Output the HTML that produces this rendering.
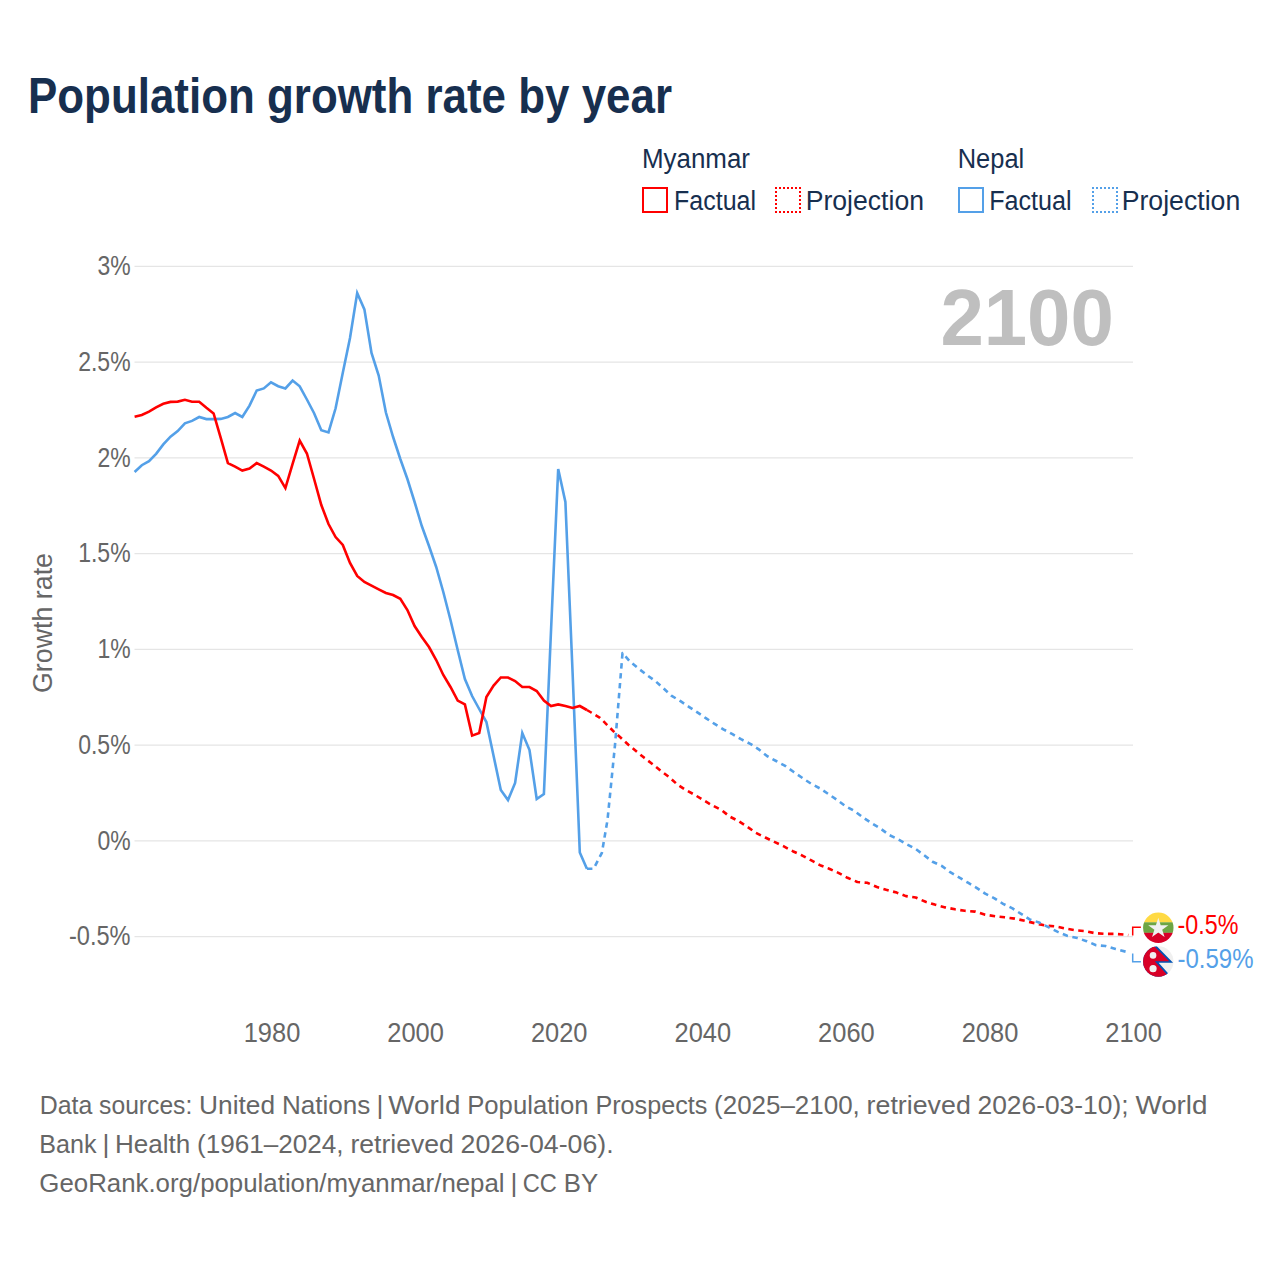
<!DOCTYPE html>
<html><head><meta charset="utf-8"><style>
html,body{margin:0;padding:0;background:#fff;}
svg{display:block;}
text{font-family:"Liberation Sans",sans-serif;}
.ti{font-size:50px;font-weight:bold;fill:#172f4f;}
.lg{font-size:27px;fill:#172f4f;}
.tk{font-size:27px;fill:#666666;}
.an{font-size:27px;}
.ft{font-size:26.6px;fill:#666666;}
.yr{font-size:80px;font-weight:bold;fill:#bfbfbf;}
</style></head><body>
<svg width="1280" height="1280" viewBox="0 0 1280 1280">
<rect width="1280" height="1280" fill="#fff"/>

<text x="28" y="112.75" class="ti" textLength="644" lengthAdjust="spacingAndGlyphs">Population growth rate by year</text>
<text x="1113.8" y="344.8" text-anchor="end" class="yr" textLength="173.4" lengthAdjust="spacingAndGlyphs">2100</text>
<text transform="translate(51.7,623) rotate(-90)" text-anchor="middle" class="tk" textLength="140" lengthAdjust="spacingAndGlyphs">Growth rate</text>
<text x="1177.5" y="933.9" class="an" fill="#ff0000" textLength="61" lengthAdjust="spacingAndGlyphs">-0.5%</text>
<text x="1177.5" y="967.8" class="an" fill="#54a0e8" textLength="76" lengthAdjust="spacingAndGlyphs">-0.59%</text>
<text x="39.7" y="1113.6" class="ft" textLength="52.6" lengthAdjust="spacingAndGlyphs">Data</text>
<text x="99.1" y="1113.6" class="ft" textLength="93.2" lengthAdjust="spacingAndGlyphs">sources:</text>
<text x="199.1" y="1113.6" class="ft" textLength="76.0" lengthAdjust="spacingAndGlyphs">United</text>
<text x="281.9" y="1113.6" class="ft" textLength="88.5" lengthAdjust="spacingAndGlyphs">Nations</text>
<text x="376.4" y="1113.6" class="ft">|</text>
<text x="388.2" y="1113.6" class="ft" textLength="72.2" lengthAdjust="spacingAndGlyphs">World</text>
<text x="467.2" y="1113.6" class="ft" textLength="121.4" lengthAdjust="spacingAndGlyphs">Population</text>
<text x="595.4" y="1113.6" class="ft" textLength="111.9" lengthAdjust="spacingAndGlyphs">Prospects</text>
<text x="714.1" y="1113.6" class="ft" textLength="145.7" lengthAdjust="spacingAndGlyphs">(2025–2100,</text>
<text x="866.6" y="1113.6" class="ft" textLength="104.2" lengthAdjust="spacingAndGlyphs">retrieved</text>
<text x="977.5" y="1113.6" class="ft" textLength="151.0" lengthAdjust="spacingAndGlyphs">2026-03-10);</text>
<text x="1135.4" y="1113.6" class="ft" textLength="72.1" lengthAdjust="spacingAndGlyphs">World</text>
<text x="39.3" y="1152.7" class="ft" textLength="57.2" lengthAdjust="spacingAndGlyphs">Bank</text>
<text x="102.5" y="1152.7" class="ft">|</text>
<text x="115.0" y="1152.7" class="ft" textLength="75.3" lengthAdjust="spacingAndGlyphs">Health</text>
<text x="197.1" y="1152.7" class="ft" textLength="146.5" lengthAdjust="spacingAndGlyphs">(1961–2024,</text>
<text x="350.4" y="1152.7" class="ft" textLength="103.4" lengthAdjust="spacingAndGlyphs">retrieved</text>
<text x="460.6" y="1152.7" class="ft" textLength="153.0" lengthAdjust="spacingAndGlyphs">2026-04-06).</text>
<text x="39.3" y="1191.7" class="ft" textLength="465.3" lengthAdjust="spacingAndGlyphs">GeoRank.org/population/myanmar/nepal</text>
<text x="510.6" y="1191.7" class="ft">|</text>
<text x="522.7" y="1191.7" class="ft" textLength="34.2" lengthAdjust="spacingAndGlyphs">CC</text>
<text x="563.7" y="1191.7" class="ft" textLength="34.4" lengthAdjust="spacingAndGlyphs">BY</text>


<text x="642" y="167.6" class="lg" textLength="108" lengthAdjust="spacingAndGlyphs">Myanmar</text>
<rect x="643" y="188" width="24" height="24" fill="none" stroke="#ff0000" stroke-width="2"/>
<text x="674" y="209.9" class="lg" textLength="82" lengthAdjust="spacingAndGlyphs">Factual</text>
<rect x="775" y="187" width="2" height="2" fill="#ff0000"/><rect x="775" y="191" width="2" height="2" fill="#ff0000"/><rect x="775" y="195" width="2" height="2" fill="#ff0000"/><rect x="775" y="199" width="2" height="2" fill="#ff0000"/><rect x="775" y="203" width="2" height="2" fill="#ff0000"/><rect x="775" y="207" width="2" height="2" fill="#ff0000"/><rect x="775" y="211" width="2" height="2" fill="#ff0000"/><rect x="779" y="187" width="2" height="2" fill="#ff0000"/><rect x="779" y="211" width="2" height="2" fill="#ff0000"/><rect x="783" y="187" width="2" height="2" fill="#ff0000"/><rect x="783" y="211" width="2" height="2" fill="#ff0000"/><rect x="787" y="187" width="2" height="2" fill="#ff0000"/><rect x="787" y="211" width="2" height="2" fill="#ff0000"/><rect x="791" y="187" width="2" height="2" fill="#ff0000"/><rect x="791" y="211" width="2" height="2" fill="#ff0000"/><rect x="795" y="187" width="2" height="2" fill="#ff0000"/><rect x="795" y="211" width="2" height="2" fill="#ff0000"/><rect x="799" y="187" width="2" height="2" fill="#ff0000"/><rect x="799" y="191" width="2" height="2" fill="#ff0000"/><rect x="799" y="195" width="2" height="2" fill="#ff0000"/><rect x="799" y="199" width="2" height="2" fill="#ff0000"/><rect x="799" y="203" width="2" height="2" fill="#ff0000"/><rect x="799" y="207" width="2" height="2" fill="#ff0000"/><rect x="799" y="211" width="2" height="2" fill="#ff0000"/>
<text x="805.7" y="209.9" class="lg" textLength="118.3" lengthAdjust="spacingAndGlyphs">Projection</text>
<text x="957.7" y="167.6" class="lg" textLength="66.5" lengthAdjust="spacingAndGlyphs">Nepal</text>
<rect x="959" y="188" width="24" height="24" fill="none" stroke="#54a0e8" stroke-width="2"/>
<text x="989.2" y="209.9" class="lg" textLength="82.5" lengthAdjust="spacingAndGlyphs">Factual</text>
<rect x="1092" y="187" width="2" height="2" fill="#54a0e8"/><rect x="1092" y="191" width="2" height="2" fill="#54a0e8"/><rect x="1092" y="195" width="2" height="2" fill="#54a0e8"/><rect x="1092" y="199" width="2" height="2" fill="#54a0e8"/><rect x="1092" y="203" width="2" height="2" fill="#54a0e8"/><rect x="1092" y="207" width="2" height="2" fill="#54a0e8"/><rect x="1092" y="211" width="2" height="2" fill="#54a0e8"/><rect x="1096" y="187" width="2" height="2" fill="#54a0e8"/><rect x="1096" y="211" width="2" height="2" fill="#54a0e8"/><rect x="1100" y="187" width="2" height="2" fill="#54a0e8"/><rect x="1100" y="211" width="2" height="2" fill="#54a0e8"/><rect x="1104" y="187" width="2" height="2" fill="#54a0e8"/><rect x="1104" y="211" width="2" height="2" fill="#54a0e8"/><rect x="1108" y="187" width="2" height="2" fill="#54a0e8"/><rect x="1108" y="211" width="2" height="2" fill="#54a0e8"/><rect x="1112" y="187" width="2" height="2" fill="#54a0e8"/><rect x="1112" y="211" width="2" height="2" fill="#54a0e8"/><rect x="1116" y="187" width="2" height="2" fill="#54a0e8"/><rect x="1116" y="191" width="2" height="2" fill="#54a0e8"/><rect x="1116" y="195" width="2" height="2" fill="#54a0e8"/><rect x="1116" y="199" width="2" height="2" fill="#54a0e8"/><rect x="1116" y="203" width="2" height="2" fill="#54a0e8"/><rect x="1116" y="207" width="2" height="2" fill="#54a0e8"/><rect x="1116" y="211" width="2" height="2" fill="#54a0e8"/>
<text x="1121.7" y="209.9" class="lg" textLength="118.6" lengthAdjust="spacingAndGlyphs">Projection</text>

<line x1="134.5" y1="266.4" x2="1133" y2="266.4" stroke="#e5e5e5" stroke-width="1.3"/><line x1="134.5" y1="362.1" x2="1133" y2="362.1" stroke="#e5e5e5" stroke-width="1.3"/><line x1="134.5" y1="457.9" x2="1133" y2="457.9" stroke="#e5e5e5" stroke-width="1.3"/><line x1="134.5" y1="553.6" x2="1133" y2="553.6" stroke="#e5e5e5" stroke-width="1.3"/><line x1="134.5" y1="649.4" x2="1133" y2="649.4" stroke="#e5e5e5" stroke-width="1.3"/><line x1="134.5" y1="745.1" x2="1133" y2="745.1" stroke="#e5e5e5" stroke-width="1.3"/><line x1="134.5" y1="840.9" x2="1133" y2="840.9" stroke="#e5e5e5" stroke-width="1.3"/><line x1="134.5" y1="936.6" x2="1133" y2="936.6" stroke="#e5e5e5" stroke-width="1.3"/><text x="130.6" y="275.0" text-anchor="end" class="tk" textLength="33.2" lengthAdjust="spacingAndGlyphs">3%</text><text x="130.6" y="370.8" text-anchor="end" class="tk" textLength="52.4" lengthAdjust="spacingAndGlyphs">2.5%</text><text x="130.6" y="466.5" text-anchor="end" class="tk" textLength="33.2" lengthAdjust="spacingAndGlyphs">2%</text><text x="130.6" y="562.2" text-anchor="end" class="tk" textLength="52.4" lengthAdjust="spacingAndGlyphs">1.5%</text><text x="130.6" y="658.0" text-anchor="end" class="tk" textLength="33.2" lengthAdjust="spacingAndGlyphs">1%</text><text x="130.6" y="753.8" text-anchor="end" class="tk" textLength="52.4" lengthAdjust="spacingAndGlyphs">0.5%</text><text x="130.6" y="849.5" text-anchor="end" class="tk" textLength="33.2" lengthAdjust="spacingAndGlyphs">0%</text><text x="130.6" y="945.2" text-anchor="end" class="tk" textLength="61.6" lengthAdjust="spacingAndGlyphs">-0.5%</text><text x="272.0" y="1042" text-anchor="middle" class="tk" textLength="56.6" lengthAdjust="spacingAndGlyphs">1980</text><text x="415.6" y="1042" text-anchor="middle" class="tk" textLength="56.6" lengthAdjust="spacingAndGlyphs">2000</text><text x="559.2" y="1042" text-anchor="middle" class="tk" textLength="56.6" lengthAdjust="spacingAndGlyphs">2020</text><text x="702.8" y="1042" text-anchor="middle" class="tk" textLength="56.6" lengthAdjust="spacingAndGlyphs">2040</text><text x="846.4" y="1042" text-anchor="middle" class="tk" textLength="56.6" lengthAdjust="spacingAndGlyphs">2060</text><text x="990.0" y="1042" text-anchor="middle" class="tk" textLength="56.6" lengthAdjust="spacingAndGlyphs">2080</text><text x="1133.6" y="1042" text-anchor="middle" class="tk" textLength="56.6" lengthAdjust="spacingAndGlyphs">2100</text>

<polyline points="586.9,710.0 591.2,712.5 600.0,717.8 615.0,732.8 620.0,737.0 628.4,744.8 636.9,751.8 644.6,758.1 653.0,764.5 660.8,770.8 669.2,777.1 677.0,784.2 685.4,789.8 694.5,794.7 703.7,800.3 712.1,805.3 721.9,810.3 729.7,816.6 738.8,821.2 747.5,826.9 755.9,832.8 765.3,837.5 774.4,841.9 783.4,846.2 792.8,851.2 801.8,855.3 810.9,860.2 820.1,865.2 829.2,868.7 838.4,872.9 847.5,877.8 857.4,882.0 867.2,882.8 877.0,887.0 886.2,889.8 896.7,892.6 905.9,896.1 915.7,897.5 925.6,901.8 934.7,904.6 945.3,907.4 955.0,909.3 964.8,910.8 975.0,911.6 985.2,914.7 995.3,916.2 1004.7,917.3 1014.8,918.6 1025.0,920.9 1035.2,923.3 1045.3,925.6 1055.5,926.4 1064.8,928.4 1075.0,930.3 1085.2,931.1 1094.5,933.1 1104.7,933.9 1114.8,933.9 1125.0,934.6 1128.3,935.0" fill="none" stroke="#ff0000" stroke-width="2.6" stroke-dasharray="5.5 4.5" stroke-linejoin="round"/>
<polyline points="586.9,868.7 593.6,868.7 601.9,852.8 607.5,820.0 615.0,745.0 622.5,653.1 630.0,661.6 639.7,669.5 648.1,675.9 655.9,681.5 663.6,688.5 671.3,695.6 680.5,701.2 688.9,706.8 697.4,712.4 705.8,718.1 714.2,723.7 723.4,729.3 732.5,734.2 741.0,739.2 750.8,744.1 759.2,749.7 767.0,756.0 776.1,761.0 785.2,765.9 794.1,772.3 802.5,778.0 810.9,783.6 820.1,788.5 828.5,794.1 837.0,799.8 845.4,806.1 854.5,811.0 863.0,817.4 871.4,823.0 880.6,828.6 889.0,834.9 898.1,839.2 906.6,844.1 915.7,849.0 924.2,855.3 932.6,861.7 941.7,865.9 950.2,872.2 958.6,877.2 968.0,882.7 976.6,887.8 985.2,893.6 994.5,898.3 1003.1,903.8 1012.5,908.4 1021.1,913.9 1029.7,919.4 1039.0,922.5 1048.4,927.2 1057.8,931.9 1067.2,935.8 1077.3,938.1 1086.7,941.2 1096.1,945.2 1105.5,946.0 1115.6,949.0 1126.6,951.9 1128.3,952.3" fill="none" stroke="#54a0e8" stroke-width="2.6" stroke-dasharray="5.5 4.5" stroke-linejoin="round"/>
<polyline points="134.6,472.0 141.8,465.2 149.0,461.2 156.1,453.8 163.3,444.4 170.5,436.6 177.7,431.1 184.9,423.3 192.0,420.9 199.2,417.0 206.4,419.1 213.6,419.1 220.8,418.9 227.9,417.0 235.1,413.1 242.3,417.0 249.5,405.6 256.7,390.5 263.8,388.4 271.0,382.3 278.2,386.2 285.4,388.4 292.6,380.5 299.7,386.3 306.9,399.5 314.1,413.2 321.3,430.2 328.5,432.4 335.6,408.3 342.8,372.7 350.0,338.0 357.2,293.0 364.4,309.4 371.5,353.0 378.7,375.6 385.9,412.5 393.1,437.0 400.3,459.0 407.4,479.0 414.6,502.0 421.8,526.0 429.0,546.0 436.2,567.0 443.3,592.0 450.5,620.0 457.7,650.0 464.9,679.0 472.1,696.0 479.2,709.0 486.4,722.0 493.6,756.0 500.8,790.0 508.0,800.0 515.1,783.0 522.3,733.0 529.5,750.0 536.7,799.0 543.9,794.0 551.0,631.0 558.2,469.0 565.4,502.0 572.6,673.0 579.8,852.5 586.9,868.7" fill="none" stroke="#54a0e8" stroke-width="2.6" stroke-linejoin="miter" stroke-miterlimit="4"/>
<polyline points="134.6,416.7 141.8,415.0 149.0,411.6 156.1,407.3 163.3,403.8 170.5,401.9 177.7,401.6 184.9,399.8 192.0,401.7 199.2,401.7 206.4,407.7 213.6,413.4 220.8,438.1 227.9,463.1 235.1,466.7 242.3,470.6 249.5,468.6 256.7,463.1 263.8,466.7 271.0,470.5 278.2,475.9 285.4,488.1 292.6,463.9 299.7,440.5 306.9,453.5 314.1,479.0 321.3,505.0 328.5,524.0 335.6,537.0 342.8,545.0 350.0,563.0 357.2,576.0 364.4,582.0 371.5,585.6 378.7,589.4 385.9,593.0 393.1,595.0 400.3,598.8 407.4,610.0 414.6,626.0 421.8,637.0 429.0,647.0 436.2,660.0 443.3,675.0 450.5,687.0 457.7,700.6 464.9,704.4 472.1,735.6 479.2,733.0 486.4,697.0 493.6,685.6 500.8,677.5 508.0,677.5 515.1,681.0 522.3,687.0 529.5,687.0 536.7,691.0 543.9,700.6 551.0,706.0 558.2,704.4 565.4,706.0 572.6,708.0 579.8,706.0 586.9,710.0" fill="none" stroke="#ff0000" stroke-width="2.6" stroke-linejoin="miter" stroke-miterlimit="4"/>
<polyline points="1132.7,935.5 1132.7,927.3 1140.9,927.3" fill="none" stroke="#ff0000" stroke-width="1.5"/>
<polyline points="1132.7,953.6 1132.7,961.8 1140.9,961.8" fill="none" stroke="#54a0e8" stroke-width="1.5"/>


<defs>
<clipPath id="cm"><circle cx="1158.3" cy="927.7" r="15.2"/></clipPath>
<clipPath id="cn"><circle cx="1158.3" cy="961.5" r="15.2"/></clipPath>
</defs>
<g clip-path="url(#cm)">
<rect x="1140" y="910" width="40" height="12.5" fill="#ffda44"/>
<rect x="1140" y="922.3" width="40" height="10.6" fill="#6da544"/>
<rect x="1140" y="932.8" width="40" height="14" fill="#d80027"/>
<polygon fill="#f0f0f0" points="1158.3,917.8 1160.7,925.2 1168.4,925.2 1162.2,929.7 1164.6,937.1 1158.3,932.5 1152,937.1 1154.4,929.7 1148.2,925.2 1155.9,925.2"/>
</g>
<g clip-path="url(#cn)">
<rect x="1140" y="944" width="40" height="36" fill="#f0f0f0"/>
<polygon fill="#0052b4" points="1143,943 1153.7,943 1173.07,962.8 1158.6,962.8 1172.4,978 1172.4,981 1143,981"/>
<polygon fill="#d80027" points="1143,943 1151.0,943 1169.2,961.3 1154.8,961.3 1170,978 1170,981 1143,981"/>
<circle cx="1153.05" cy="955.4" r="3.3" fill="#f0f0f0"/>
<circle cx="1153.05" cy="968.7" r="3.6" fill="#f0f0f0"/>
</g>

</svg>
</body></html>
